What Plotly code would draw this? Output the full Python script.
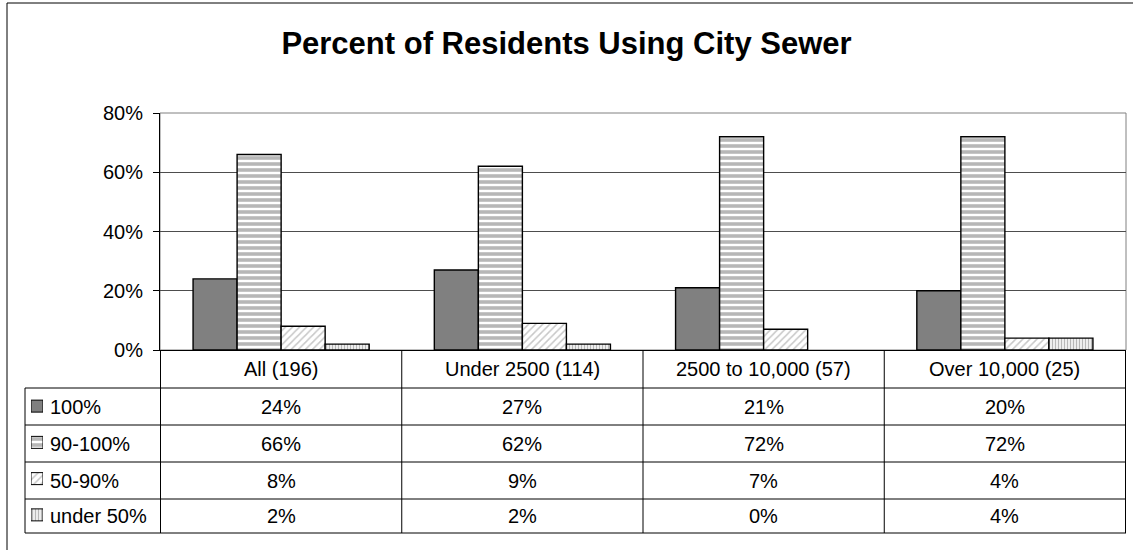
import plotly.graph_objects as go

categories = ["All (196)", "Under 2500 (114)", "2500 to 10,000 (57)", "Over 10,000 (25)"]
series_names = ["100%", "90-100%", "50-90%", "under 50%"]
pct_100 = [24, 27, 21, 20]
pct_90_100 = [66, 62, 72, 72]
pct_50_90 = [8, 9, 7, 4]
pct_under_50 = [2, 2, 0, 4]
y_ticks = [0, 0.2, 0.4, 0.6, 0.8]

series_values = [pct_100, pct_90_100, pct_50_90, pct_under_50]

W, H = 1133, 550
FONT = "Liberation Sans, Arial, sans-serif"


def px(x):
    return x / W


def py(y):
    return 1 - y / H


# fill styles for each series (solid, horizontal, diagonal, vertical)
markers = [
    dict(color="#808080"),
    dict(color="white", pattern=dict(shape="-", fgcolor="#707070", bgcolor="white", size=6, solidity=0.6)),
    dict(color="white", pattern=dict(shape="/", fgcolor="#909090", bgcolor="white", size=5, solidity=0.3)),
    dict(color="white", pattern=dict(shape="|", fgcolor="#707070", bgcolor="white", size=3, solidity=0.5)),
]

fig = go.Figure()
for name, vals, mk in zip(series_names, series_values, markers):
    # no outline on empty bars
    m = dict(mk, line=dict(color="black", width=[1.4 if v else 0 for v in vals]))
    fig.add_bar(x=categories, y=[v / 100 for v in vals], name=name, marker=m, showlegend=False)
    # legend key in the data table
    fig.add_bar(x=[1], y=[name], orientation="h", width=0.33, xaxis="x2", yaxis="y2",
                marker=dict(mk, line=dict(color="black", width=1)), showlegend=False, hoverinfo="skip")

# table geometry (pixels)
row_edges = [350, 388, 425, 462, 499, 533]
tbl_left, plot_left, plot_right, plot_top = 25, 160, 1126, 113

shapes = []
shapes.append(dict(type="rect", xref="paper", yref="paper", x0=px(7), x1=px(1145), y0=py(560), y1=py(3),
                   line=dict(color="black", width=1)))
shapes.append(dict(type="rect", xref="paper", yref="paper", x0=px(plot_left), x1=px(plot_right),
                   y0=py(350), y1=py(plot_top), line=dict(color="#808080", width=1), layer="below"))
for ye in row_edges[1:]:
    shapes.append(dict(type="line", xref="paper", yref="paper", x0=px(tbl_left), x1=px(plot_right),
                       y0=py(ye), y1=py(ye), line=dict(color="black", width=1)))
shapes.append(dict(type="line", xref="paper", yref="paper", x0=px(tbl_left), x1=px(tbl_left),
                   y0=py(row_edges[1]), y1=py(row_edges[-1]), line=dict(color="black", width=1)))
for i in range(len(categories) + 1):
    shapes.append(dict(type="line", xref="x", yref="paper", x0=i - 0.5, x1=i - 0.5,
                       y0=py(row_edges[0]), y1=py(row_edges[-1]), line=dict(color="black", width=1)))

annotations = []
for c in categories:
    annotations.append(dict(x=c, xref="x", y=py((row_edges[0] + row_edges[1]) / 2), yref="paper",
                            text=c, showarrow=False, yanchor="middle", font=dict(size=20)))
for r, (name, vals) in enumerate(zip(series_names, series_values)):
    yc = py((row_edges[r + 1] + row_edges[r + 2]) / 2)
    annotations.append(dict(x=px(48), xref="paper", y=yc, yref="paper", text=name, showarrow=False,
                            xanchor="left", yanchor="middle", font=dict(size=20)))
    for c, v in zip(categories, vals):
        annotations.append(dict(x=c, xref="x", y=yc, yref="paper", text=f"{v}%", showarrow=False,
                                yanchor="middle", font=dict(size=20)))

fig.update_layout(
    width=W, height=H,
    margin=dict(l=0, r=0, t=0, b=0, autoexpand=False),
    paper_bgcolor="white", plot_bgcolor="white",
    font=dict(family=FONT, size=20, color="black"),
    title=dict(text="<b>Percent of Residents Using City Sewer</b>", x=0.5, xanchor="center",
               y=py(43), yanchor="middle", font=dict(size=31, family=FONT, color="black")),
    barmode="group", bargap=0.27, bargroupgap=0,
    xaxis=dict(domain=[px(plot_left), px(plot_right)], showticklabels=False, ticks="",
               showline=True, linecolor="black", linewidth=1, showgrid=False, automargin=False),
    yaxis=dict(domain=[py(350), py(plot_top)], range=[0, 0.8], tickvals=y_ticks, tickformat=".0%",
               showline=True, linecolor="black", linewidth=1, ticks="outside", ticklen=6,
               tickcolor="black", showgrid=True, gridcolor="#4d4d4d", gridwidth=1,
               zeroline=False, ticklabelstandoff=6, automargin=False),
    xaxis2=dict(domain=[px(31), px(43)], range=[0, 1], visible=False, anchor="y2", automargin=False),
    yaxis2=dict(domain=[py(row_edges[-1]), py(row_edges[1])], categoryorder="array",
                categoryarray=series_names, autorange="reversed", visible=False, anchor="x2",
                automargin=False),
    shapes=shapes,
    annotations=annotations,
)

fig.write_html("out.html", config={"displayModeBar": False},
               post_script="document.body.style.margin='0';")
